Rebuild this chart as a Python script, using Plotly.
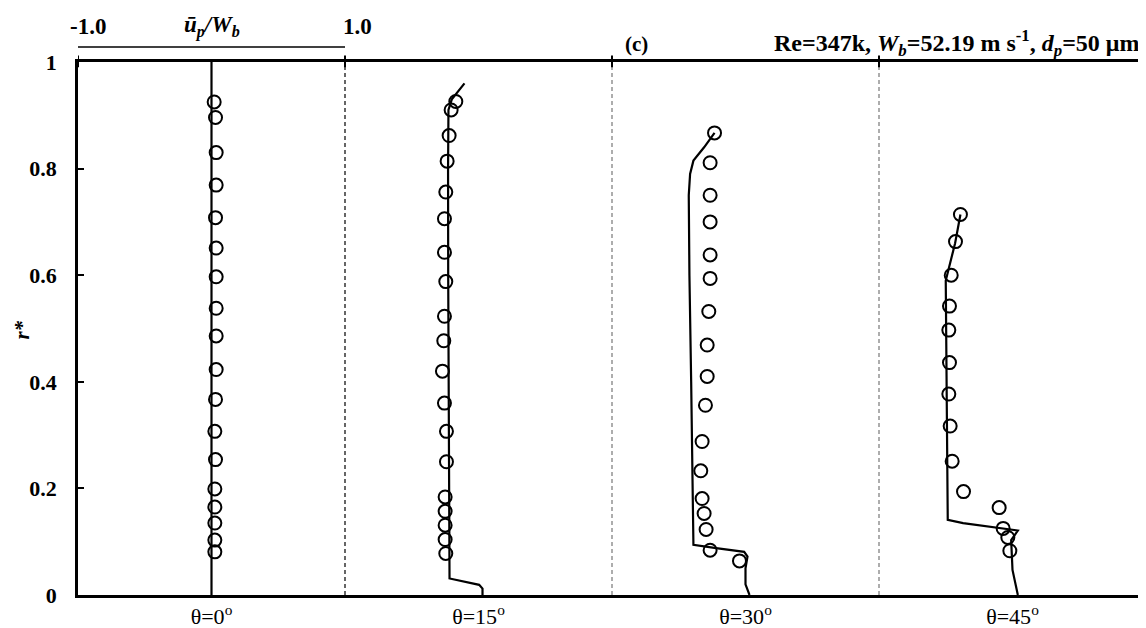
import plotly.graph_objects as go

# ---------------- data ----------------
theta_labels = ["θ=0<sup>o</sup>", "θ=15<sup>o</sup>", "θ=30<sup>o</sup>", "θ=45<sup>o</sup>"]

# experimental particle velocity (circles): r* and u_p/W_b
r_exp_0 = [0.925, 0.896, 0.830, 0.769, 0.708, 0.651, 0.597, 0.538, 0.486, 0.423,
           0.367, 0.307, 0.254, 0.199, 0.165, 0.135, 0.103, 0.081]
u_exp_0 = [0.02, 0.03, 0.035, 0.035, 0.03, 0.035, 0.035, 0.035, 0.035, 0.035,
           0.03, 0.025, 0.03, 0.025, 0.025, 0.025, 0.025, 0.025]

r_exp_15 = [0.926, 0.910, 0.862, 0.814, 0.756, 0.706, 0.643, 0.588, 0.523, 0.477,
            0.420, 0.360, 0.307, 0.250, 0.184, 0.157, 0.131, 0.104, 0.078]
u_exp_15 = [-0.17, -0.205, -0.22, -0.235, -0.245, -0.255, -0.255, -0.245, -0.255, -0.26,
            -0.27, -0.255, -0.24, -0.24, -0.25, -0.25, -0.25, -0.25, -0.245]

r_exp_30 = [0.867, 0.811, 0.750, 0.700, 0.638, 0.594, 0.532, 0.469, 0.410, 0.356,
            0.288, 0.233, 0.181, 0.153, 0.123, 0.084, 0.064]
u_exp_30 = [-0.232, -0.265, -0.265, -0.265, -0.265, -0.265, -0.275, -0.287, -0.287, -0.30,
            -0.325, -0.335, -0.325, -0.31, -0.295, -0.265, -0.045]

r_exp_45 = [0.714, 0.663, 0.600, 0.542, 0.497, 0.436, 0.377, 0.317, 0.251, 0.194,
            0.164, 0.125, 0.108, 0.083]
u_exp_45 = [-0.39, -0.427, -0.459, -0.472, -0.477, -0.472, -0.477, -0.467, -0.452, -0.367,
            -0.10, -0.07, -0.035, -0.02]

# simulated particle velocity (lines)
r_sim_0 = [0.0, 1.0]
u_sim_0 = [0.0, 0.0]

r_sim_15 = [0.96, 0.945, 0.93, 0.91, 0.80, 0.60, 0.40, 0.20, 0.031, 0.019, 0.012, 0.0]
u_sim_15 = [-0.105, -0.15, -0.20, -0.225, -0.228, -0.227, -0.224, -0.22, -0.217, 0.005, 0.03, 0.03]

r_sim_30 = [0.867, 0.84, 0.815, 0.79, 0.75, 0.60, 0.40, 0.20, 0.094, 0.088, 0.081, 0.072, 0.05, 0.02, 0.0]
u_sim_30 = [-0.232, -0.31, -0.39, -0.415, -0.425, -0.42, -0.407, -0.395, -0.39, -0.22, -0.01, 0.015, 0.0, 0.0, 0.03]

r_sim_45 = [0.714, 0.66, 0.59, 0.50, 0.30, 0.141, 0.135, 0.127, 0.121, 0.103, 0.047, 0.0]
u_sim_45 = [-0.39, -0.43, -0.50, -0.497, -0.49, -0.485, -0.37, -0.12, 0.04, -0.01, 0.0, 0.04]

y_ticks = [0, 0.2, 0.4, 0.6, 0.8, 1.0]
y_ticktext = ["0", "0.2", "0.4", "0.6", "0.8", "1"]

# ---------------- figure ----------------
PANEL_WIDTH = 2.0  # each panel spans u_p/W_b from -1 to 1
exp_sets = [(u_exp_0, r_exp_0), (u_exp_15, r_exp_15), (u_exp_30, r_exp_30), (u_exp_45, r_exp_45)]
sim_sets = [(u_sim_0, r_sim_0), (u_sim_15, r_sim_15), (u_sim_30, r_sim_30), (u_sim_45, r_sim_45)]

SERIF = "Liberation Serif"
fig = go.Figure()

for i, (u, r) in enumerate(sim_sets):
    off = i * PANEL_WIDTH
    fig.add_trace(go.Scatter(x=[v + off for v in u], y=r, mode="lines",
                             line=dict(color="black", width=2.2), showlegend=False,
                             hoverinfo="skip"))
for i, (u, r) in enumerate(exp_sets):
    off = i * PANEL_WIDTH
    fig.add_trace(go.Scatter(x=[v + off for v in u], y=r, mode="markers",
                             marker=dict(symbol="circle-open", size=13, color="black",
                                         line=dict(width=2, color="black")),
                             showlegend=False, cliponaxis=False))

shapes = []
# panel separators
for k, col in zip([1, 3, 5], ["black", "#777777", "#777777"]):
    shapes.append(dict(type="line", xref="x", yref="paper", x0=k, x1=k, y0=0, y1=1,
                       line=dict(color=col, width=1.2, dash="4px,3px")))
# top ticks
for k in [-1, 1, 3, 5]:
    shapes.append(dict(type="line", xref="x", yref="paper", x0=k, x1=k, y0=0.99, y1=1.012,
                       line=dict(color="black", width=2)))
# scale bar for u_p/W_b
shapes.append(dict(type="line", xref="x", yref="paper", x0=-1, x1=1, y0=1.028, y1=1.028,
                   line=dict(color="black", width=1.5)))

ann_font = dict(family=SERIF, size=23, color="black", weight="bold")
common = dict(showarrow=False, xanchor="center", yanchor="middle")
annotations = [
    dict(x=-0.925, y=1.067, xref="x", yref="paper", text="-1.0", font=ann_font, **common),
    dict(x=0.0, y=1.067, xref="x", yref="paper", text="<i>u\u0304<sub>p</sub>/W<sub>b</sub></i>",
         font=ann_font, **common),
    dict(x=1.09, y=1.067, xref="x", yref="paper", text="1.0", font=ann_font, **common),
    dict(x=3.18, y=1.034, xref="x", yref="paper", text="(c)",
         font=dict(family=SERIF, size=21, color="black", weight="bold"), **common),
    dict(x=6.965, y=1.036, xref="x", yref="paper", xanchor="right", yanchor="middle", showarrow=False,
         text="Re=347k, <i>W<sub>b</sub></i>=52.19 m s<sup>-1</sup>, <i>d<sub>p</sub></i>=50 μm",
         font=dict(family=SERIF, size=24, color="black", weight="bold")),
    dict(x=-0.052, y=0.497, xref="paper", yref="paper", text="<i>r*</i>", textangle=-90,
         font=dict(family=SERIF, size=21, color="black", weight="bold"), **common),
]

# page body has an 8px default margin: size the figure so the plot lands where the reference has it
fig.update_layout(
    width=1138, height=620, autosize=False,
    margin=dict(l=70, r=0, t=54, b=33),
    plot_bgcolor="white", paper_bgcolor="white",
    shapes=shapes, annotations=annotations,
    xaxis=dict(range=[-1, 7], showgrid=False, zeroline=False, showline=True,
               linecolor="black", linewidth=2.5, mirror=True, ticks="",
               tickvals=[i * PANEL_WIDTH for i in range(4)], ticktext=theta_labels,
               tickfont=dict(family=SERIF, size=22, color="black")),
    yaxis=dict(range=[0, 1], showgrid=False, zeroline=False, showline=True,
               linecolor="black", linewidth=2.5, mirror=False,
               ticks="inside", ticklen=6, tickwidth=2, tickcolor="black",
               tickvals=y_ticks, ticktext=y_ticktext, ticklabelstandoff=14,
               tickfont=dict(family=SERIF, size=22, color="black", weight="bold")),
)

fig.write_html("out.html")
